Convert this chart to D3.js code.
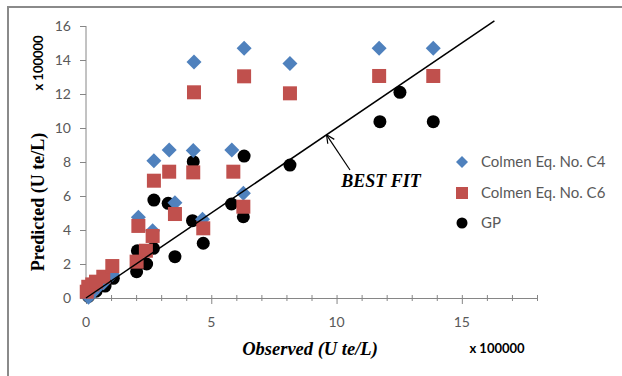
<!DOCTYPE html>
<html><head><meta charset="utf-8">
<script src="https://cdn.jsdelivr.net/npm/d3@7"></script>
<style>html,body{margin:0;padding:0;background:#fff;}svg{display:block;}</style>
</head><body>
<script>
// ---- data (x 100000 U te/L) ----
const xTicks = [0, 5, 10, 15];
const yTicks = [0, 2, 4, 6, 8, 10, 12, 14, 16];
const seriesNames = ["Colmen Eq. No. C4", "Colmen Eq. No. C6", "GP"];

const c4Obs  = [0.1, 0.25, 0.45, 0.7, 1.05, 2.09, 2.66, 2.71, 3.32, 3.55, 4.28, 4.31, 4.65, 5.82, 6.28, 6.31, 8.14, 11.7, 13.86];
const c4Pred = [0.05, 0.3, 0.6, 0.9, 1.4, 4.75, 3.96, 8.08, 8.7, 5.61, 8.67, 13.88, 4.63, 8.7, 6.16, 14.69, 13.8, 14.69, 14.69];

const c6Obs  = [0.03, 0.09, 0.25, 0.4, 0.69, 1.05, 2.02, 2.39, 2.09, 2.66, 2.71, 3.32, 3.55, 4.28, 4.31, 4.68, 5.88, 6.28, 6.31, 8.14, 11.7, 13.86];
const c6Pred = [0.37, 0.66, 0.8, 0.96, 1.25, 1.88, 2.14, 2.78, 4.24, 3.65, 6.9, 7.43, 4.94, 7.39, 12.1, 4.1, 7.43, 5.37, 13.04, 12.04, 13.06, 13.06];

const gpObs  = [0.1, 0.4, 0.76, 1.09, 2.02, 2.42, 2.05, 2.69, 3.55, 4.68, 4.25, 6.28, 5.81, 3.28, 2.71, 4.28, 6.31, 8.14, 11.73, 12.53, 13.86];
const gpPred = [0.1, 0.4, 0.7, 1.16, 1.55, 2.0, 2.78, 2.92, 2.43, 3.22, 4.55, 4.78, 5.53, 5.57, 5.76, 8.02, 8.35, 7.82, 10.37, 12.1, 10.37];

const bestFit = [[0, 0], [16.3, 16.3]];
const bestFitLabelAt = 9.6; // observed value where the arrow touches the line

// ---- layout ----
const W = 622, H = 376;
const svg = d3.select("body").append("svg").attr("width", W).attr("height", H);

const x = d3.scaleLinear().domain([0, 18]).range([86, 537]);
const y = d3.scaleLinear().domain([0, 16]).range([298, 26]);

// frame lines (top and left only)
svg.append("line").attr("x1", 7).attr("x2", W).attr("y1", 7).attr("y2", 7)
  .attr("stroke", "#8a8a8a").attr("stroke-width", 2);
svg.append("line").attr("x1", 8).attr("x2", 8).attr("y1", 7).attr("y2", H)
  .attr("stroke", "#8a8a8a").attr("stroke-width", 2);

const tickFont = "Lato, 'Open Sans', sans-serif";

// x axis
const xAxis = svg.append("g").attr("transform", `translate(0,${y(0)})`)
  .call(d3.axisBottom(x).tickValues(d3.range(0, 19, 1)).tickSize(0).tickFormat(""));
xAxis.select(".domain").attr("stroke", "#868686");
xAxis.selectAll(".tick line").attr("stroke", "#868686")
  .attr("y1", -3).attr("y2", d => xTicks.includes(d) ? 6 : 3);
svg.append("g").selectAll("text").data(xTicks).join("text")
  .attr("x", d => x(d)).attr("y", 327).attr("text-anchor", "middle")
  .attr("font-family", tickFont).attr("font-size", 14).attr("fill", "#595959")
  .text(d => d);

// y axis
const yAxis = svg.append("g").attr("transform", `translate(${x(0)},0)`)
  .call(d3.axisLeft(y).tickValues(yTicks).tickSize(6).tickFormat(""));
yAxis.select(".domain").attr("stroke", "#868686").attr("d", `M0,${y(16)}V${y(0)}`);
yAxis.selectAll(".tick line").attr("stroke", "#868686");
svg.append("g").selectAll("text").data(yTicks).join("text")
  .attr("x", 71).attr("y", d => y(d) + 5).attr("text-anchor", "end")
  .attr("font-family", tickFont).attr("font-size", 14).attr("fill", "#595959")
  .text(d => d);

// axis titles
svg.append("text").attr("transform", "translate(44,202) rotate(-90)")
  .attr("text-anchor", "middle").attr("font-family", "'Liberation Serif', serif")
  .attr("font-weight", "bold").attr("font-size", 18).attr("fill", "#000")
  .text("Predicted (U te/L)");
svg.append("text").attr("transform", "translate(43,63) rotate(-90)")
  .attr("text-anchor", "middle").attr("font-family", tickFont)
  .attr("font-weight", "bold").attr("font-size", 13).attr("fill", "#000")
  .text("x 100000");
svg.append("text").attr("x", 310).attr("y", 355)
  .attr("text-anchor", "middle").attr("font-family", "'Liberation Serif', serif")
  .attr("font-weight", "bold").attr("font-style", "italic").attr("font-size", 18.5).attr("fill", "#000")
  .text("Observed (U te/L)");
svg.append("text").attr("x", 497).attr("y", 353)
  .attr("text-anchor", "middle").attr("font-family", tickFont)
  .attr("font-weight", "bold").attr("font-size", 13).attr("fill", "#000")
  .text("x 100000");

// markers
const C4 = "#4f81bd", C6 = "#c0504d", GP = "#000000";
const diamond = s => `M0,${-s}L${s},0L0,${s}L${-s},0Z`;

const gpData = gpObs.map((o, i) => [o, gpPred[i]]);
const c4Data = c4Obs.map((o, i) => [o, c4Pred[i]]);
const c6Data = c6Obs.map((o, i) => [o, c6Pred[i]]);

svg.append("g").selectAll("circle").data(gpData).join("circle")
  .attr("cx", d => x(d[0])).attr("cy", d => y(d[1])).attr("r", 6.5).attr("fill", GP);
svg.append("g").selectAll("path").data(c4Data).join("path")
  .attr("transform", d => `translate(${x(d[0])},${y(d[1])})`)
  .attr("d", diamond(7.5)).attr("fill", C4);
svg.append("g").selectAll("rect").data(c6Data).join("rect")
  .attr("x", d => x(d[0]) - 7).attr("y", d => y(d[1]) - 7)
  .attr("width", 14).attr("height", 14).attr("fill", C6);

// best fit line
svg.append("line")
  .attr("x1", x(bestFit[0][0])).attr("y1", y(bestFit[0][1]))
  .attr("x2", x(bestFit[1][0])).attr("y2", y(bestFit[1][1]))
  .attr("stroke", "#000").attr("stroke-width", 1.5);

// BEST FIT annotation with open arrow
const ax = x(bestFitLabelAt), ay = y(bestFitLabelAt);
const sx = 350, sy = 170;
svg.append("line").attr("x1", sx).attr("y1", sy).attr("x2", ax).attr("y2", ay)
  .attr("stroke", "#000").attr("stroke-width", 1.2);
const ang = Math.atan2(sy - ay, sx - ax);
[0.45, -0.45].forEach(da => {
  svg.append("line").attr("x1", ax).attr("y1", ay)
    .attr("x2", ax + 9 * Math.cos(ang + da)).attr("y2", ay + 9 * Math.sin(ang + da))
    .attr("stroke", "#000").attr("stroke-width", 1.2);
});
svg.append("text").attr("x", 381).attr("y", 187).attr("text-anchor", "middle")
  .attr("font-family", "'Liberation Serif', serif").attr("font-weight", "bold")
  .attr("font-style", "italic").attr("font-size", 18).attr("fill", "#000")
  .text("BEST FIT");

// legend
const legY = [162, 193, 223];
const lg = svg.append("g");
seriesNames.forEach((name, i) => {
  const cy = legY[i], cx = 462;
  if (i === 0) lg.append("path").attr("transform", `translate(${cx},${cy})`).attr("d", diamond(6)).attr("fill", C4);
  if (i === 1) lg.append("rect").attr("x", cx - 6).attr("y", cy - 6).attr("width", 12).attr("height", 12).attr("fill", C6);
  if (i === 2) lg.append("circle").attr("cx", cx).attr("cy", cy).attr("r", 5.5).attr("fill", GP);
  lg.append("text").attr("x", 481).attr("y", cy + 5).attr("font-family", tickFont)
    .attr("font-size", 15).attr("fill", "#595959").text(name);
});
</script>
</body></html>
